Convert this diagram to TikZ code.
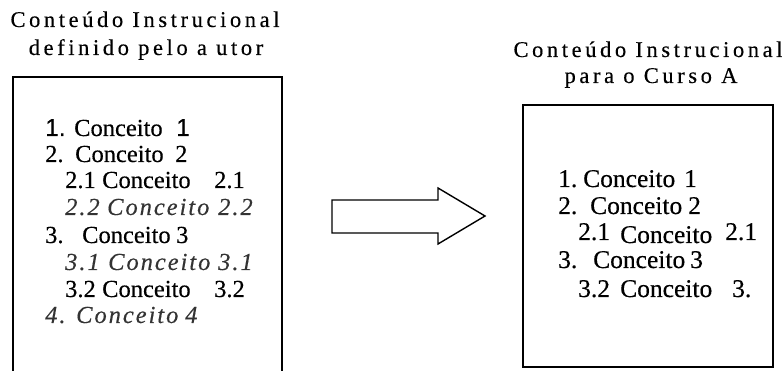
\documentclass[tikz,border=0pt]{standalone}
\usepackage{fontspec}
\setmainfont{Liberation Serif}
\newfontfamily\arialf{Liberation Sans}[FakeBold=0.4]
\begin{document}
\begin{tikzpicture}[x=1pt,y=-1pt,
  ttl/.style={font=\fontsize{22.5}{26}\selectfont\addfontfeature{LetterSpace=16,FakeBold=0.3}, inner sep=0pt, anchor=base},
  itm/.style={font=\fontsize{24.5}{28}\selectfont\addfontfeature{FakeBold=0.4}, inner sep=0pt, anchor=base west},
  ital/.style={itm, text=black!80, font=\fontsize{24.5}{28}\selectfont\itshape\addfontfeature{LetterSpace=8,FakeBold=0.3}},
  itmR/.style={font=\fontsize{25.5}{29}\selectfont\addfontfeature{FakeBold=0.4}, inner sep=0pt, anchor=base west},
  frame/.style={line width=1.4pt, line join=miter},
]
\useasboundingbox (0,0) rectangle (782,371);
% titles
\node[ttl] (t1a) at (145,27) {Conteúdo Instrucional};
\node[ttl] (t1b) at (146,55) {definido pelo a utor};
\node[ttl] (t2a) at (648,57) {Conteúdo Instrucional};
\node[ttl] (t2b) at (651,83) {para o Curso A};
% left box (open at the bottom)
\draw[frame] (13,380) -- (13,77) -- (282,77) -- (282,380);
% right box
\draw[frame] (523,105) rectangle (773,367);
% arrow
\draw[frame] (332,200) -- (438,200) -- (438,188) -- (485,216) -- (438,244) -- (438,233) -- (332,233) -- cycle;
% left items
\node[itm] (l1) at (45,136) {\makebox[29pt][l]{\arialf 1.}\makebox[102pt][l]{Conceito}{\arialf 1}};
\node[itm] (l2) at (45,162) {\makebox[30pt][l]{2.}\makebox[100pt][l]{Conceito}2};
\node[itm] (l3) at (65,188) {\makebox[37pt][l]{2.1}\makebox[112pt][l]{Conceito}2.1};
\node[ital] (l4) at (65,215) {\makebox[42pt][l]{2.2}\makebox[111pt][l]{Conceito}2.2};
\node[itm] (l5) at (45,243) {\makebox[37pt][l]{3.}\makebox[94pt][l]{Conceito}3};
\node[ital] (l6) at (65,270) {\makebox[43pt][l]{3.1}\makebox[110pt][l]{Conceito}3.1};
\node[itm] (l7) at (65,297) {\makebox[37pt][l]{3.2}\makebox[112pt][l]{Conceito}3.2};
\node[ital] (l8) at (45,323) {\makebox[31pt][l]{4.}\makebox[109pt][l]{Conceito}4};
% right items
\node[itmR] (r1) at (558,187) {\makebox[25pt][l]{1.}\makebox[101pt][l]{Conceito}1};
\node[itmR] (r2) at (558,214) {\makebox[32pt][l]{2.}\makebox[98pt][l]{Conceito}2};
\node[itmR] (r3) at (578,240) {\makebox[42pt][l]{2.1}\makebox[105pt][l]{\raisebox{-3pt}{Conceito}}2.1};
\node[itmR] (r4) at (558,268) {\makebox[35pt][l]{3.}\makebox[97pt][l]{Conceito}3};
\node[itmR] (r5) at (578,297) {\makebox[42pt][l]{3.2}\makebox[112pt][l]{Conceito}3.};
\end{tikzpicture}
\end{document}
